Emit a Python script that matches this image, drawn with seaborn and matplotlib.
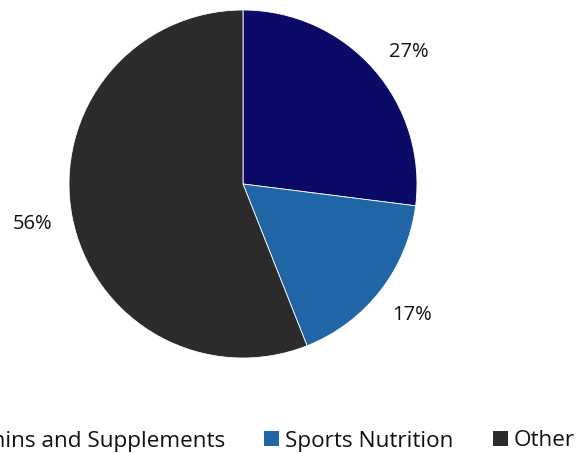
import matplotlib
matplotlib.use("Agg")
import matplotlib.pyplot as plt
import seaborn as sns
from matplotlib.patches import Patch

# Market share by segment
categories = ["Vitamins and Supplements", "Sports Nutrition", "Other"]
shares = [27, 17, 56]
colors = ["#0b0a66", "#2066a6", "#2c2a2b"]

sns.set_theme(style="white")
plt.rcParams["font.family"] = ["Open Sans", "DejaVu Sans"]

fig = plt.figure(figsize=(5.76, 4.53), dpi=100)
ax = fig.add_axes([69 / 576, 95 / 453, 348 / 576, 348 / 453])

palette = sns.color_palette(colors)
wedges, texts, autotexts = ax.pie(
    shares,
    colors=palette,
    startangle=90,
    counterclock=False,
    autopct=lambda p: f"{p:.0f}%",
    pctdistance=1.23,
    wedgeprops=dict(edgecolor="white", linewidth=0.6),
    textprops=dict(fontsize=14.5, color="#111111"),
)
# nudge the first label a little lower along the rim
x0, y0 = autotexts[0].get_position()
autotexts[0].set_position((x0 + 0.03, y0 - 0.055))

ax.set_xlim(-1, 1)
ax.set_ylim(-1, 1)
ax.set_aspect("equal")
ax.axis("off")

handles = [Patch(facecolor=c, edgecolor="none") for c in palette]
fig.legend(
    handles,
    categories,
    loc="center right",
    bbox_to_anchor=(575 / 576, 1 - 441 / 453),
    ncol=3,
    frameon=False,
    fontsize=16.2,
    labelcolor="#111111",
    handlelength=0.66,
    handleheight=0.66,
    handletextpad=0.27,
    columnspacing=1.75,
    borderpad=0,
    borderaxespad=0,
)

fig.savefig("out.png", dpi=100)
